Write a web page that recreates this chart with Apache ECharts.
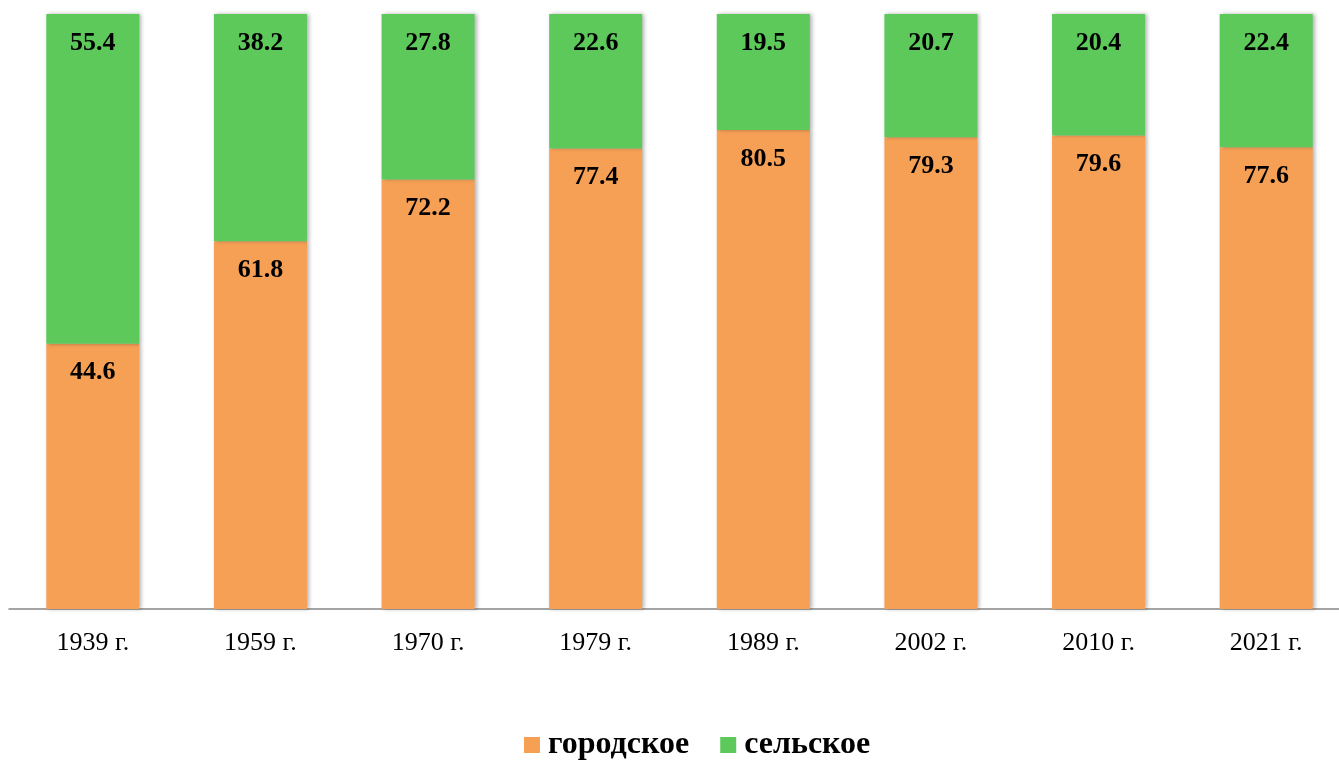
<!DOCTYPE html>
<html><head><meta charset="utf-8">
<script src="https://cdn.jsdelivr.net/npm/echarts@6/dist/echarts.min.js"></script>
<style>html,body{margin:0;padding:0;background:#fff}#c{width:1339px;height:760px}</style>
</head><body><div id="c"></div>
<script>
const categories = ['1939 г.','1959 г.','1970 г.','1979 г.','1989 г.','2002 г.','2010 г.','2021 г.'];
const urban = [44.6, 61.8, 72.2, 77.4, 80.5, 79.3, 79.6, 77.6];
const rural = [55.4, 38.2, 27.8, 22.6, 19.5, 20.7, 20.4, 22.4];
const font = '"Liberation Serif", "Times New Roman", serif';
const chart = echarts.init(document.getElementById('c'));
const lbl = {show:true, position:'insideTop', distance:16, color:'#000', fontFamily:font, fontWeight:'bold', fontSize:26, formatter: p => p.value.toFixed(1)};
const shadow = {shadowBlur:4, shadowOffsetX:2, shadowOffsetY:0, shadowColor:'rgba(0,0,0,0.3)'};
chart.setOption({
  animation:false,
  grid:{left:9, width:1341, top:14, bottom:151, containLabel:false, outerBoundsMode:'none'},
  legend:{left:519, top:724, itemWidth:16, itemHeight:16, itemGap:31, icon:'rect',
    textStyle:{fontFamily:font, fontWeight:'bold', fontSize:32, color:'#000', padding:[0,0,0,3]},
    data:['городское','сельское']},
  xAxis:{type:'category', data:categories,
    axisLine:{lineStyle:{color:'#868686', width:1.5}}, axisTick:{show:false},
    axisLabel:{fontFamily:font, fontSize:26, color:'#000', margin:21}},
  yAxis:{type:'value', min:0, max:100, show:false, splitLine:{show:false}},
  series:[
    {name:'городское', type:'bar', stack:'a', data:urban, barWidth:'55.5%',
     itemStyle:Object.assign({color:'#F6A056'}, shadow), label:lbl},
    {name:'сельское', type:'bar', stack:'a', data:rural, barWidth:'55.5%',
     itemStyle:Object.assign({color:'#5CC95A'}, shadow), label:lbl}
  ]
});
</script></body></html>
